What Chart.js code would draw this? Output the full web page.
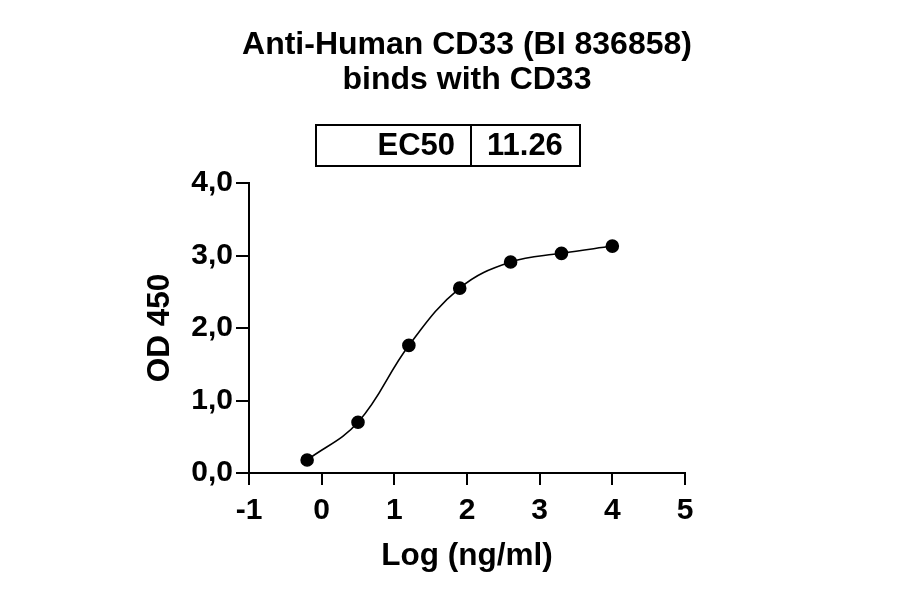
<!DOCTYPE html>
<html>
<head>
<meta charset="utf-8">
<script src="https://cdn.jsdelivr.net/npm/chart.js@4.4.1/dist/chart.umd.min.js"></script>
<style>
body{margin:0;background:#fff;}
#wrap{width:900px;height:594px;position:relative;}
</style>
</head>
<body>
<div id="wrap"><canvas id="c" width="900" height="594"></canvas></div>
<script>
/* DADOS */
const logConc=[-0.2,0.5,1.2,1.9,2.6,3.3,4.0];
const od450=[0.18,0.70,1.76,2.55,2.91,3.03,3.13];
const titulo=['Anti-Human CD33 (BI 836858)','binds with CD33'];
const ec50=['EC50','11.26'];
const xTicks=[-1,0,1,2,3,4,5];
const yTicks=[0,1,2,3,4];

const FONTE='"Liberation Sans", Arial, sans-serif';

/* TITULO + CAIXA EC50 */
const extras={
id:'extras',
afterDraw(ch){
const c=ch.ctx;
const a=ch.chartArea;
const cx=(a.left+a.right)/2;
c.save();
c.fillStyle='#000';
c.font='bold 32px '+FONTE;
c.textAlign='center';
c.textBaseline='alphabetic';
c.fillText(titulo[0],cx,54);
c.fillText(titulo[1],cx,89);

c.strokeStyle='#000';
c.lineWidth=2;
c.strokeRect(316,125,264,41);
c.beginPath();
c.moveTo(471,125);
c.lineTo(471,166);
c.stroke();
c.font='bold 31px '+FONTE;
c.textAlign='right';
c.fillText(ec50[0],455,155);
c.textAlign='left';
c.fillText(ec50[1],487,155);
c.restore();
}
};

const pts=logConc.map((x,i)=>({x:x,y:od450[i]}));

new Chart(document.getElementById('c'),{
type:'line',
data:{datasets:[{
data:pts,
borderColor:'#000',
backgroundColor:'#000',
borderWidth:1.6,
pointRadius:6,
pointHoverRadius:6,
tension:0.4,
fill:false
}]},
options:{
responsive:false,
animation:false,
layout:{padding:{left:0,top:183,right:215,bottom:0}},
plugins:{legend:{display:false},tooltip:{enabled:false}},
scales:{
x:{
type:'linear',
min:xTicks[0],max:xTicks[xTicks.length-1],
afterFit:s=>{s.height=121;},
afterBuildTicks:s=>{s.ticks=xTicks.map(v=>({value:v}));},
grid:{drawOnChartArea:false,color:'#000',lineWidth:2,tickLength:12},
border:{color:'#000',width:2},
ticks:{color:'#000',font:{family:FONTE,size:30,weight:'bold'},padding:8,maxRotation:0},
title:{display:true,text:'Log (ng/ml)',color:'#000',font:{family:FONTE,size:31.5,weight:'bold'},padding:{top:0,bottom:19}}
},
y:{
type:'linear',
min:yTicks[0],max:yTicks[yTicks.length-1],
afterFit:s=>{s.width=249;},
afterBuildTicks:s=>{s.ticks=yTicks.map(v=>({value:v}));},
grid:{drawOnChartArea:false,color:'#000',lineWidth:2,tickLength:13},
border:{color:'#000',width:2},
ticks:{color:'#000',font:{family:FONTE,size:30,weight:'bold'},padding:3,
callback:v=>v.toFixed(1).replace('.',',')},
title:{display:true,text:'OD 450',color:'#000',font:{family:FONTE,size:31.5,weight:'bold'},padding:{top:141,bottom:0}}
}
}
},
plugins:[extras]
});
</script>
</body>
</html>
